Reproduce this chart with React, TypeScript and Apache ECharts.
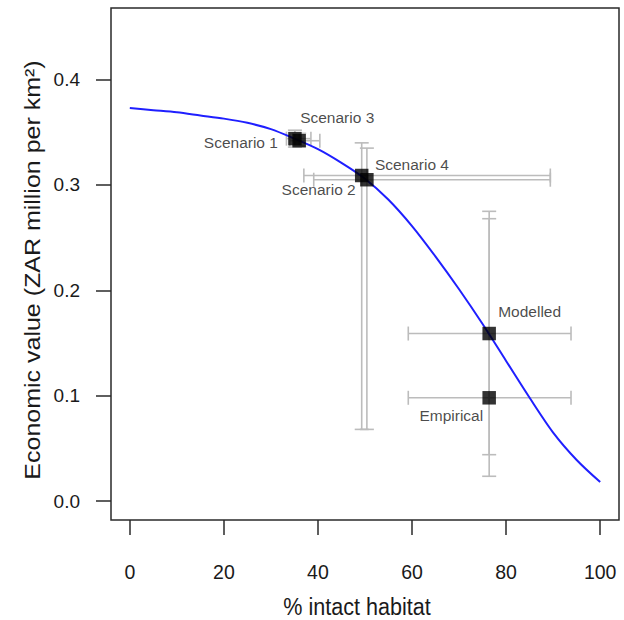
import React, { useEffect, useRef } from "react";
import * as echarts from "echarts";

// Fitted curve
const curveX = [0, 5, 10, 15, 20, 25, 30, 35, 40, 45, 50, 55, 60, 65, 70, 75, 80, 85, 90, 95, 100];
const curveY = [0.373, 0.371, 0.369, 0.366, 0.363, 0.359, 0.353, 0.344, 0.334, 0.321, 0.306, 0.286, 0.261, 0.232, 0.201, 0.168, 0.133, 0.098, 0.065, 0.039, 0.018];

// Points with error bars
const pointNames = ["Scenario 1", "Scenario 3", "Scenario 2", "Scenario 4", "Modelled", "Empirical"];
const pointX = [35.1, 36.0, 49.3, 50.4, 76.4, 76.4];
const pointY = [0.344, 0.342, 0.309, 0.305, 0.159, 0.098];
const xLow = [33.3, 34.0, 37.0, 39.1, 59.2, 59.2];
const xHigh = [38.5, 40.4, 89.4, 89.4, 93.8, 93.8];
const yLow = [0.336, 0.337, 0.068, 0.068, 0.0235, 0.044];
const yHigh = [0.352, 0.349, 0.340, 0.335, 0.275, 0.268];

// Tick labels
const xTicks = [0, 20, 40, 60, 80, 100];
const yTicks = [0, 0.1, 0.2, 0.3, 0.4];

// Titles
const xTitle = "% intact habitat";
const yTitle = "Economic value (ZAR million per km²)";

// Label placement (styling)
const labelAlign = ["right", "left", "right", "left", "left", "right"];
const labelOffset = [[-17, 4], [1, -23], [-6, 14], [8, -15], [9, -22], [-6, 18]];

const FONT = "'Liberation Sans', Arial, Helvetica, sans-serif";

export default function App() {
  const ref = useRef<HTMLDivElement>(null);
  useEffect(() => {
    if (!ref.current) return;
    const chart = echarts.init(ref.current, null, { renderer: "svg" });
    const errData = pointNames.map((n, i) => [pointX[i], pointY[i], xLow[i], xHigh[i], yLow[i], yHigh[i]]);
    const ptData = pointNames.map((n, i) => ({
      value: [pointX[i], pointY[i]],
      name: n,
      label: {
        show: true,
        formatter: n,
        position: "inside",
        align: labelAlign[i],
        verticalAlign: "middle",
        offset: labelOffset[i],
        color: "#1a1a1a",
        fontSize: 15.5,
        fontFamily: FONT,
      },
    }));
    const cap = 7;
    const lineStyle = { stroke: "#bcbcbc", lineWidth: 1.6, fill: "none" };
    chart.setOption({
      animation: false,
      grid: { left: 111, right: 5, top: 8, bottom: 100, show: true, borderColor: "#2a2a2a", borderWidth: 1.5, backgroundColor: "#fff" },
      xAxis: {
        type: "value",
        min: -4,
        max: 104,
        splitLine: { show: false },
        axisLine: { show: false, onZero: false },
        axisTick: { show: true, inside: false, length: 15, customValues: xTicks, lineStyle: { color: "#2a2a2a", width: 1.5 } },
        axisLabel: { customValues: xTicks, margin: 42, fontSize: 19.5, color: "#1a1a1a", fontFamily: FONT },
      },
      yAxis: {
        type: "value",
        min: -0.018,
        max: 0.468,
        splitLine: { show: false },
        axisLine: { show: false, onZero: false },
        axisTick: { show: true, inside: false, length: 15, customValues: yTicks, lineStyle: { color: "#2a2a2a", width: 1.5 } },
        axisLabel: { customValues: yTicks, margin: 31, fontSize: 19, color: "#1a1a1a", fontFamily: FONT, formatter: (v: number) => v.toFixed(1) },
      },
      graphic: [
        {
          type: "text",
          x: 357,
          y: 607,
          scaleX: 0.88,
          z: 10,
          style: { text: xTitle, font: `24.5px ${FONT}`, fill: "#1a1a1a", textAlign: "center", textVerticalAlign: "middle" },
        },
        {
          type: "text",
          x: 33,
          y: 270,
          rotation: Math.PI / 2,
          scaleY: 0.88,
          z: 10,
          style: { text: yTitle, font: `25px ${FONT}`, fill: "#1a1a1a", textAlign: "center", textVerticalAlign: "middle" },
        },
      ],
      series: [
        {
          type: "custom",
          z: 1,
          data: errData,
          encode: { x: [0, 2, 3], y: [1, 4, 5] },
          renderItem: (params: any, api: any) => {
            const x = api.value(0), y = api.value(1);
            const l = api.coord([api.value(2), y]);
            const r = api.coord([api.value(3), y]);
            const b = api.coord([x, api.value(4)]);
            const t = api.coord([x, api.value(5)]);
            const mk = (x1: number, y1: number, x2: number, y2: number) => ({ type: "line", shape: { x1, y1, x2, y2 }, style: lineStyle });
            return {
              type: "group",
              children: [
                mk(l[0], l[1], r[0], r[1]),
                mk(l[0], l[1] - cap, l[0], l[1] + cap),
                mk(r[0], r[1] - cap, r[0], r[1] + cap),
                mk(b[0], b[1], t[0], t[1]),
                mk(b[0] - cap, b[1], b[0] + cap, b[1]),
                mk(t[0] - cap, t[1], t[0] + cap, t[1]),
              ],
            };
          },
        },
        {
          type: "line",
          z: 2,
          data: curveX.map((x, i) => [x, curveY[i]]),
          smooth: 0.3,
          showSymbol: false,
          lineStyle: { color: "#1f1fff", width: 2 },
        },
        {
          type: "scatter",
          z: 3,
          symbol: "rect",
          symbolSize: 13.5,
          itemStyle: { color: "#000" },
          data: ptData,
        },
      ],
    });
    return () => chart.dispose();
  }, []);
  return <div ref={ref} style={{ position: "fixed", left: 0, top: 0, width: 624, height: 620, background: "#fff" }} />;
}
